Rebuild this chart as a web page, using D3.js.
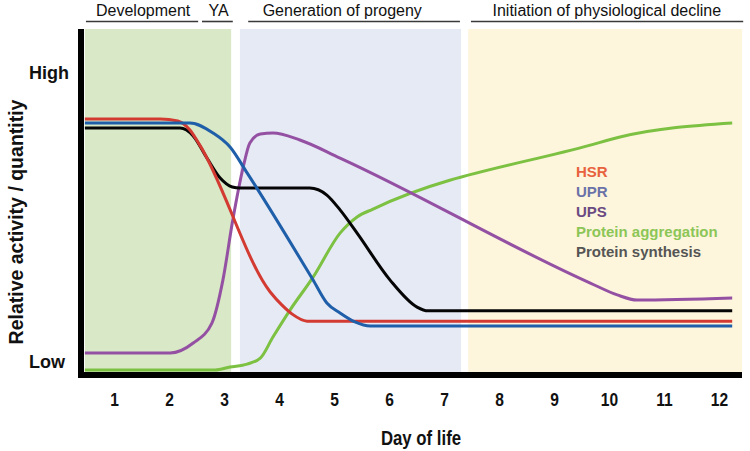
<!DOCTYPE html>
<html>
<head>
<meta charset="utf-8">
<script src="https://cdn.jsdelivr.net/npm/d3@7"></script>
<style>
  html, body { margin: 0; padding: 0; background: #fff; }
  svg { display: block; }
</style>
</head>
<body>
<svg id="chart" width="750" height="451"></svg>
<script>
// ---------- DATA ----------
const days = [1, 2, 3, 4, 5, 6, 7, 8, 9, 10, 11, 12];
const tickLabels = ["1", "2", "3", "4", "5", "6", "7", "8", "9", "10", "11", "12"];

const seriesNames = ["HSR", "UPR", "UPS", "Protein aggregation", "Protein synthesis"];

// [day, relative level 0-100]
const hsr = [[0.47, 93], [1.84, 93], [2.16, 92.2], [2.38, 88.9], [2.56, 83.3], [3.84, 28.9],
             [4.05, 24.1], [4.24, 20.7], [4.51, 18.1], [12.24, 18.1]];
const upr = [[0.47, 91.5], [2.38, 91.5], [2.8, 87.8], [3.11, 82.6], [3.42, 73.0], [4.62, 33.3],
             [4.87, 24.8], [5.11, 21.1], [5.38, 17.8], [5.66, 16.3], [12.24, 16.3]];
const ups = [[0.47, 6.3], [2.02, 6.3], [2.44, 10], [2.78, 17.4], [2.98, 33.3], [3.16, 55.6],
             [3.35, 75.2], [3.47, 84.1], [3.66, 87.4], [3.89, 87.8], [4.38, 85.2], [5.11, 78.5],
             [9.66, 32.2], [10.15, 27.8], [10.51, 25.9], [12.24, 26.7]];
const aggregation = [[0.47, 0], [2.84, 0], [3.11, 1.1], [3.42, 2.2], [3.66, 4.4], [3.89, 12.2],
             [4.2, 22.2], [4.62, 34.4], [5.11, 50.7], [5.42, 56.7], [5.71, 59.6], [9.66, 83.3],
             [10.2, 86.3], [12.24, 91.5]];
const synthesis = [[0.47, 89.6], [2.2, 89.6], [2.44, 86.7], [2.69, 78.5], [2.93, 71.1], [3.15, 67.8],
             [3.29, 67.4], [4.56, 67.4], [4.87, 64.8], [5.11, 59.3], [5.42, 50.7], [6.02, 33.3],
             [6.51, 23.3], [6.71, 21.9], [12.24, 21.9]];

// life phases (days)
const phaseNames = ["Development", "YA", "Generation of progeny", "Initiation of physiological decline"];
const phaseStart = [0.49, 2.6, 3.44, 7.49];
const phaseEnd = [2.53, 3.16, 7.29, 12.44];
const phaseLabelAt = [1.53, 2.9, 5.15, 9.96];

// background bands (days)
const bandStart = [0.47, 3.29, 7.44];
const bandEnd = [3.13, 7.31, 12.42];

const yLabels = ["Low", "High"];
const yLabelValues = [3, 110];

// ---------- STYLE ----------
const lineColors = ["#d23a32", "#1f5ea8", "#9451a3", "#7cc142", "#050505"];
const legendColors = ["#e8623e", "#6a72a8", "#6a4a82", "#8cc657", "#555555"];
const bandColors = ["#d9e8c6", "#e6eaf5", "#fdf5dc"];

const svg = d3.select("#chart");
const x = d3.scaleLinear().domain([1, 12]).range([114, 719]);
const y = d3.scaleLinear().domain([0, 100]).range([370, 100]);

const plotTop = 29, plotBottom = 372;

// bands
svg.append("g").selectAll("rect").data(bandStart).join("rect")
  .attr("x", (d) => x(d))
  .attr("y", plotTop)
  .attr("width", (d, i) => x(bandEnd[i]) - x(d))
  .attr("height", plotBottom - plotTop)
  .attr("fill", (d, i) => bandColors[i]);

// phases
const ph = svg.append("g");
ph.selectAll("line").data(phaseStart).join("line")
  .attr("x1", (d) => x(d)).attr("x2", (d, i) => x(phaseEnd[i]))
  .attr("y1", 21.5).attr("y2", 21.5)
  .attr("stroke", "#3a3a3a").attr("stroke-width", 1.6);
ph.selectAll("text").data(phaseNames).join("text")
  .attr("x", (d, i) => x(phaseLabelAt[i]))
  .attr("y", 16)
  .attr("text-anchor", "middle")
  .attr("font-family", "Liberation Sans, Arial, sans-serif")
  .attr("font-size", 16)
  .attr("fill", "#111")
  .text((d) => d);

// lines
const allSeries = [hsr, upr, ups, aggregation, synthesis];
const line = d3.line().x((d) => x(d[0])).y((d) => y(d[1])).curve(d3.curveMonotoneX);
const drawOrder = [3, 2, 4, 0, 1];
svg.append("g").selectAll("path").data(drawOrder).join("path")
  .attr("d", (i) => line(allSeries[i]))
  .attr("fill", "none")
  .attr("stroke", (i) => lineColors[i])
  .attr("stroke-width", 3)
  .attr("stroke-linejoin", "round");

// axes (thick black bars)
const xAxis = d3.axisBottom(x).tickValues(days).tickFormat((d, i) => tickLabels[i]).tickSize(0).tickPadding(18);
const gx = svg.append("g").attr("transform", `translate(0,${plotBottom + 3})`).call(xAxis);
gx.select(".domain").remove();
gx.selectAll("text")
  .attr("transform", "scale(0.82,1)")
  .attr("font-family", "Liberation Sans, Arial, sans-serif")
  .attr("font-weight", "bold")
  .attr("font-size", 19)
  .attr("fill", "#111");

svg.append("rect").attr("x", 78).attr("y", plotTop).attr("width", 6).attr("height", plotBottom + 6 - plotTop).attr("fill", "#000");
svg.append("rect").attr("x", 78).attr("y", plotBottom).attr("width", 742 - 78).attr("height", 6).attr("fill", "#000");

// y labels
svg.append("g").selectAll("text").data(yLabels).join("text")
  .attr("x", 29)
  .attr("y", (d, i) => y(yLabelValues[i]) + 6)
  .attr("font-family", "Liberation Sans, Arial, sans-serif")
  .attr("font-weight", "bold")
  .attr("font-size", 18)
  .attr("fill", "#111")
  .text((d) => d);

// axis titles
svg.append("text")
  .attr("transform", "translate(23,222) rotate(-90)")
  .attr("text-anchor", "middle")
  .attr("font-family", "Liberation Sans, Arial, sans-serif")
  .attr("font-weight", "bold")
  .attr("font-size", 19.5)
  .attr("fill", "#111")
  .text("Relative activity / quantitiy");

svg.append("g").attr("transform", "translate(421,445)")
  .append("text")
  .attr("transform", "scale(0.84,1)")
  .attr("text-anchor", "middle")
  .attr("font-family", "Liberation Sans, Arial, sans-serif")
  .attr("font-weight", "bold")
  .attr("font-size", 20)
  .attr("fill", "#111")
  .text("Day of life");

// legend
svg.append("g").selectAll("text").data(seriesNames).join("text")
  .attr("x", 576)
  .attr("y", (d, i) => 177 + i * 20)
  .attr("font-family", "Liberation Sans, Arial, sans-serif")
  .attr("font-weight", "bold")
  .attr("font-size", 15)
  .attr("fill", (d, i) => legendColors[i])
  .text((d) => d);
</script>
</body>
</html>
